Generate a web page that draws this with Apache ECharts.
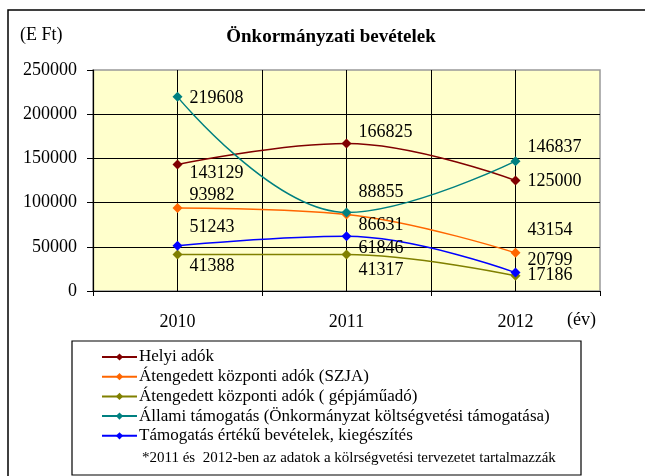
<!DOCTYPE html>
<html>
	<head>
		<meta charset="utf-8">
		<title>Önkormányzati bevételek</title>
		<script src="https://cdn.jsdelivr.net/npm/echarts@6/dist/echarts.min.js"></script>
	</head>
	<body style="margin: 0px;">
		<div id="main" style="width: 645px;height:476px;"></div>
		<script type="text/javascript">
			var years = ['2010', '2011', '2012'];
			var yTicks = [0, 50000, 100000, 150000, 200000, 250000];

			var seriesNames = [
				'Helyi adók',
				'Átengedett központi adók (SZJA)',
				'Átengedett központi adók ( gépjáműadó)',
				'Állami támogatás (Önkormányzat költségvetési támogatása)',
				'Támogatás értékű bevételek, kiegészítés'
			];
			var helyiAdok = [143129, 166825, 125000];
			var szja = [93982, 86631, 43154];
			var gepjarmu = [41388, 41317, 17186];
			var allami = [219608, 88855, 146837];
			var tamogatas = [51243, 61846, 20799];

			var colors = ['#800000', '#ff6600', '#808000', '#008080', '#0000ff'];
			// vertical shift of each value label, so they don't overlap (like in the excel chart)
			var labelShift = [
				[9, -11, 1],
				[-13, 11, -23],
				[12, 16, -1],
				[1, -20, -14],
				[-18, 12, -12]
			];

			var font = 'Liberation Serif';
			var allData = [helyiAdok, szja, gepjarmu, allami, tamogatas];

			var series = allData.map(function(values, i) {
				return {
					name: seriesNames[i],
					type: 'line',
					smooth: 0.4,
					symbol: 'diamond',
					symbolSize: 10,
					color: colors[i],
					lineStyle: { width: 1.5, color: colors[i] },
					itemStyle: { color: colors[i] },
					label: {
						show: true,
						position: 'right',
						distance: 7,
						color: '#000',
						fontFamily: font,
						fontSize: 18
					},
					data: values.map(function(v, j) {
						return { value: v, label: { offset: [0, labelShift[i][j]] } };
					}),
					z: 3 + i
				};
			});

			var chart = echarts.init(document.getElementById('main'));
			chart.setOption({
				backgroundColor: '#fff',
				animation: false,
				textStyle: { fontFamily: font },
				grid: {
					left: 93, right: 45, top: 70, bottom: 185,
					show: true,
					backgroundColor: '#ffffcc',
					borderColor: '#999',
					borderWidth: 1.5
				},
				xAxis: [{
					type: 'category',
					data: years,
					boundaryGap: true,
					axisLine: { lineStyle: { color: '#000', width: 1.2 } },
					axisTick: { show: true, length: 5, lineStyle: { color: '#000' } },
					axisLabel: { color: '#000', fontSize: 18, fontFamily: font, margin: 22 },
					splitLine: { show: false }
				}, {
					type: 'value',
					min: 0, max: 6, interval: 1,
					axisLine: { show: false },
					axisTick: { show: false },
					axisLabel: { show: false },
					splitLine: { show: true, showMinLine: false, showMaxLine: false, lineStyle: { color: '#000', width: 1 } }
				}],
				yAxis: {
					type: 'value',
					min: yTicks[0],
					max: yTicks[yTicks.length - 1],
					interval: 50000,
					axisLine: { show: true, lineStyle: { color: '#000', width: 1.2 } },
					axisTick: { show: true, length: 6, lineStyle: { color: '#000' } },
					axisLabel: {
						color: '#000', fontSize: 18, fontFamily: font, margin: 16,
						formatter: function(v) { return String(v); }
					},
					splitLine: { show: true, showMaxLine: false, lineStyle: { color: '#000', width: 1 } }
				},
				legend: {
					orient: 'vertical',
					left: 101,
					top: 348,
					padding: 0,
					itemWidth: 35,
					itemHeight: 9,
					itemGap: 1.7,
					data: seriesNames,
					textStyle: { color: '#000', fontSize: 17, fontFamily: font, lineHeight: 18, padding: [0, 0, 0, -3] }
				},
				graphic: [{
					type: 'rect',
					shape: { x: 8, y: 10, width: 700, height: 520 },
					style: { fill: null, stroke: '#000', lineWidth: 1.5 },
					silent: true
				}, {
					type: 'rect',
					shape: { x: 72, y: 341, width: 509, height: 134 },
					style: { fill: null, stroke: '#000', lineWidth: 1.2 },
					silent: true
				}, {
					type: 'text',
					x: 20, y: 35,
					style: { text: '(E Ft)', font: '18px "Liberation Serif"', fill: '#000', verticalAlign: 'middle' }
				}, {
					type: 'text',
					x: 331, y: 37,
					style: { text: 'Önkormányzati bevételek', font: 'bold 19px "Liberation Serif"', fill: '#000', align: 'center', verticalAlign: 'middle' }
				}, {
					type: 'text',
					x: 567, y: 320,
					style: { text: '(év)', font: '18px "Liberation Serif"', fill: '#000', verticalAlign: 'middle' }
				}, {
					type: 'text',
					x: 142, y: 458,
					style: { text: '*2011 és  2012-ben az adatok a kölrségvetési tervezetet tartalmazzák', font: '15px "Liberation Serif"', fill: '#000', verticalAlign: 'middle' }
				}],
				series: series
			});
		</script>
	</body>
</html>
